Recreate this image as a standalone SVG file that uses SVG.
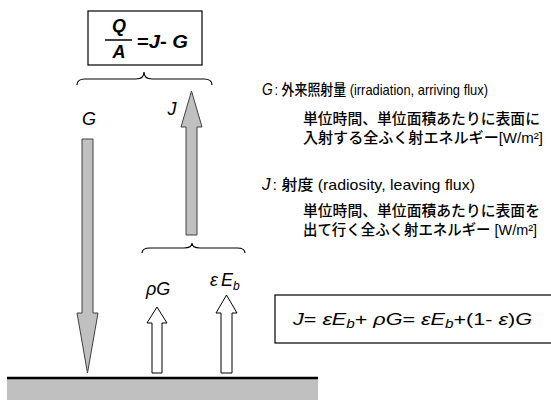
<svg xmlns="http://www.w3.org/2000/svg" width="551" height="400" viewBox="0 0 551 400">
<style>
.lat{font-family:"Liberation Sans",Arial,sans-serif;fill:#000}
.it{font-style:italic}
.bi{font-style:italic;font-weight:bold}
.jp{font-family:"Liberation Sans","Noto Sans CJK JP",sans-serif;font-size:15px;font-weight:500;fill:#000}
.gray{fill:#c0c0c0;stroke:#404040;stroke-width:1}
.hollow{fill:#fff;stroke:#000;stroke-width:1}
.brace{fill:none;stroke:#000;stroke-width:1.2}
.box{fill:#fff;stroke:#000;stroke-width:1.2}
</style>
<rect width="551" height="400" fill="#fff"/>
<g id="ground">
<rect x="7" y="378" width="311" height="22" fill="#c0c0c0"/>
<line x1="7" y1="378" x2="318" y2="378" stroke="#000" stroke-width="2.5"/>
</g>
<g id="balance-box">
<rect class="box" x="88" y="11" width="114" height="54"/>
<text class="lat bi" x="119" y="32" font-size="18" text-anchor="middle">Q</text>
<line x1="105" y1="40" x2="132" y2="40" stroke="#000" stroke-width="1.5"/>
<text class="lat bi" x="119" y="58" font-size="18" text-anchor="middle">A</text>
<text class="lat" x="137" y="48" font-size="18" font-weight="bold" textLength="51" lengthAdjust="spacingAndGlyphs">=<tspan font-style="italic">J</tspan>- <tspan font-style="italic">G</tspan></text>
</g>
<g id="connectors">
<path class="brace" d="M77,85 Q77,79 85,79 L136,79 Q144,79 144,72 Q144,79 152,79 L204,79 Q212,79 212,85"/>
<path class="brace" d="M142,253 Q142,248 150,248 L184,248 Q192,248 192,243 Q192,248 200,248 L237,248 Q245,248 245,253"/>
</g>
<g id="arrow-G">
<polygon class="gray" points="82,139 93,139 93,313 98,313 87.5,373 77,313 82,313"/>
<text class="lat it" x="89" y="125" font-size="18" text-anchor="middle">G</text>
</g>
<g id="arrow-J">
<polygon class="gray" points="186,235 186,127 181,127 191.5,91 202,127 197,127 197,235"/>
<text class="lat it" x="172" y="115" font-size="18" text-anchor="middle">J</text>
</g>
<g id="arrow-rhoG">
<polygon class="hollow" points="152,373 152,323 147,323 157,307 167,323 162,323 162,373"/>
<text class="lat it" x="146" y="295" font-size="18">ρG</text>
</g>
<g id="arrow-epsEb">
<polygon class="hollow" points="221,373 221,313 216,313 226.5,295 237,313 232,313 232,373"/>
<text class="lat it" x="210" y="286" font-size="18">ε<tspan dx="3">E</tspan><tspan font-size="12" dy="4">b</tspan></text>
</g>
<g id="equation-box">
<rect class="box" x="275" y="295" width="300" height="48"/>
<text class="lat" x="293" y="325" font-size="17" textLength="239" lengthAdjust="spacingAndGlyphs"><tspan font-style="italic">J</tspan>= <tspan font-style="italic">εE</tspan><tspan font-style="italic" font-size="12" dy="3">b</tspan><tspan dy="-3">+ </tspan><tspan font-style="italic">ρG</tspan>= <tspan font-style="italic">εE</tspan><tspan font-style="italic" font-size="12" dy="3">b</tspan><tspan dy="-3">+(1- </tspan><tspan font-style="italic">ε</tspan>)<tspan font-style="italic">G</tspan></text>
</g>
<g id="def-G">
<text class="jp" x="262" y="95" textLength="226" lengthAdjust="spacingAndGlyphs"><tspan font-style="italic" font-weight="normal" font-size="16">G</tspan><tspan dx="2">: 外来照射量 (irradiation, arriving flux)</tspan></text>
<text class="jp" x="303" y="124" textLength="237" lengthAdjust="spacingAndGlyphs">単位時間、単位面積あたりに表面に</text>
<text class="jp" x="303" y="143" textLength="240" lengthAdjust="spacingAndGlyphs">入射する全ふく射エネルギー[W/m²]</text>
</g>
<g id="def-J">
<text class="jp" x="262" y="190" textLength="213" lengthAdjust="spacingAndGlyphs"><tspan font-style="italic" font-weight="normal" font-size="16">J</tspan><tspan dx="2">: 射度 (radiosity, leaving flux)</tspan></text>
<text class="jp" x="303" y="216" textLength="237" lengthAdjust="spacingAndGlyphs">単位時間、単位面積あたりに表面を</text>
<text class="jp" x="303" y="235" textLength="234" lengthAdjust="spacingAndGlyphs">出て行く全ふく射エネルギー [W/m²]</text>
</g>
</svg>
